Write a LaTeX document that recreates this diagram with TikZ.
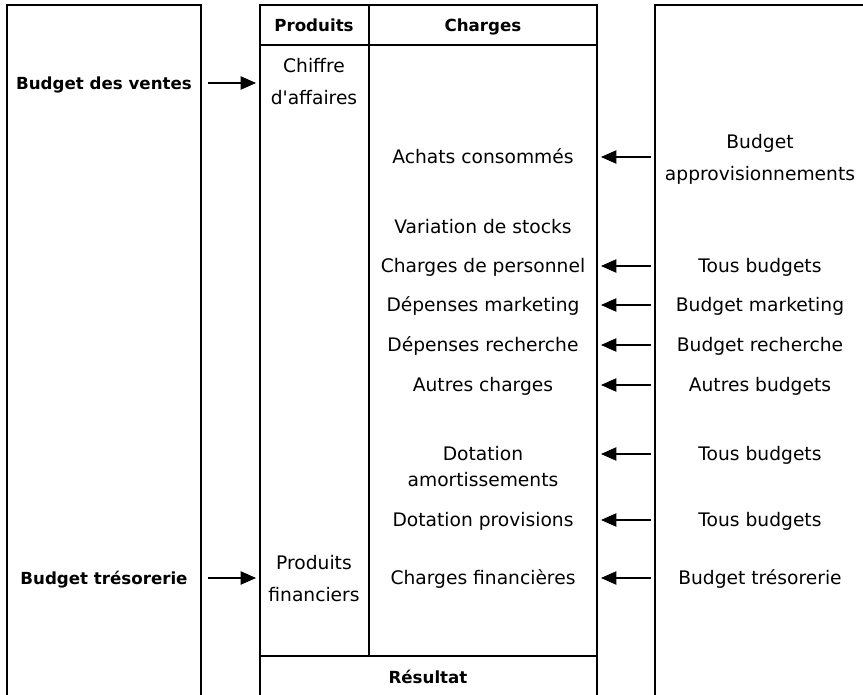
\documentclass[tikz,border=0pt]{standalone}
\usepackage{fontspec}
\setmainfont{DejaVu Sans}[Ligatures=TeXOff]
\usetikzlibrary{arrows.meta}

\begin{document}
\begin{tikzpicture}[x=0.75pt, y=-0.75pt, line width=0.8pt,
    txt/.style={font=\fontsize{14}{24}\selectfont, align=center, inner sep=0pt},
    one/.style={font=\fontsize{14}{17}\selectfont, inner sep=0pt, text height=13pt, text depth=2.8pt},
    hd/.style={font=\fontsize{12.5}{15}\selectfont\bfseries, inner sep=0pt, text height=11.5pt, text depth=2.4pt},
    arr/.style={-{Triangle[length=11.5pt,width=10pt]}}]
    \useasboundingbox (0,0) rectangle (863,695);
    % cadres
    \draw (7,695) -- (7,5) -- (201,5) -- (201,695);
    \draw (260,695) -- (260,5) -- (597,5) -- (597,695);
    \draw (260,45) -- (597,45);
    \draw (369,5) -- (369,656);
    \draw (260,656) -- (597,656);
    \draw (655,695) -- (655,5) -- (863,5);
    \coordinate (lr) at (201,0);
    \coordinate (pl) at (260,0);
    \coordinate (cr) at (597,0);
    \coordinate (rl) at (655,0);
    % budgets de gauche
    \node[hd] (ventes) at (104,83) {Budget des ventes};
    \node[hd] (treso) at (104,578) {Budget trésorerie};
    % compte de resultat
    \node[hd] (prod) at (314,25) {Produits};
    \node[hd] (chg) at (483,25) {Charges};
    \node[hd] (res) at (428,677) {Résultat};
    \node[txt] (ca) at (314,82) {Chiffre\\d'affaires};
    \node[txt] (pf) at (314,579) {Produits\\financiers};
    \node[one] (achats) at (483,157) {Achats consommés};
    \node[one] (stocks) at (483,227) {Variation de stocks};
    \node[one] (perso) at (483,266) {Charges de personnel};
    \node[one] (mkt) at (483,305) {Dépenses marketing};
    \node[one] (rech) at (483,345) {Dépenses recherche};
    \node[one] (autres) at (483,385) {Autres charges};
    \node[txt, font=\fontsize{14}{19.5}\selectfont] (amort) at (483,467) {Dotation\\amortissements};
    \node[one] (prov) at (483,520) {Dotation provisions};
    \node[one] (chfin) at (483,578) {Charges financières};
    % budgets de droite
    \node[txt] (appro) at (760,159) {Budget\\approvisionnements};
    \node[one] (tous1) at (760,266) {Tous budgets};
    \node[one] (bmkt) at (760,305) {Budget marketing};
    \node[one] (brech) at (760,345) {Budget recherche};
    \node[one] (abud) at (760,385) {Autres budgets};
    \node[one] (tous2) at (760,454) {Tous budgets};
    \node[one] (tous3) at (760,520) {Tous budgets};
    \node[one] (btreso) at (760,578) {Budget trésorerie};
    % fleches
    \draw[arr, shorten <=5.25pt, shorten >=3pt] (ventes -| lr) -- (ventes -| pl);
    \draw[arr, shorten <=5.25pt, shorten >=3pt] (treso -| lr) -- (treso -| pl);
    \draw[arr, shorten <=3pt, shorten >=3pt] (achats -| rl) -- (achats -| cr);
    \draw[arr, shorten <=3pt, shorten >=3pt] (perso -| rl) -- (perso -| cr);
    \draw[arr, shorten <=3pt, shorten >=3pt] (mkt -| rl) -- (mkt -| cr);
    \draw[arr, shorten <=3pt, shorten >=3pt] (rech -| rl) -- (rech -| cr);
    \draw[arr, shorten <=3pt, shorten >=3pt] (autres -| rl) -- (autres -| cr);
    \draw[arr, shorten <=3pt, shorten >=3pt] (tous2 -| rl) -- (tous2 -| cr);
    \draw[arr, shorten <=3pt, shorten >=3pt] (prov -| rl) -- (prov -| cr);
    \draw[arr, shorten <=3pt, shorten >=3pt] (chfin -| rl) -- (chfin -| cr);
\end{tikzpicture}
\end{document}
